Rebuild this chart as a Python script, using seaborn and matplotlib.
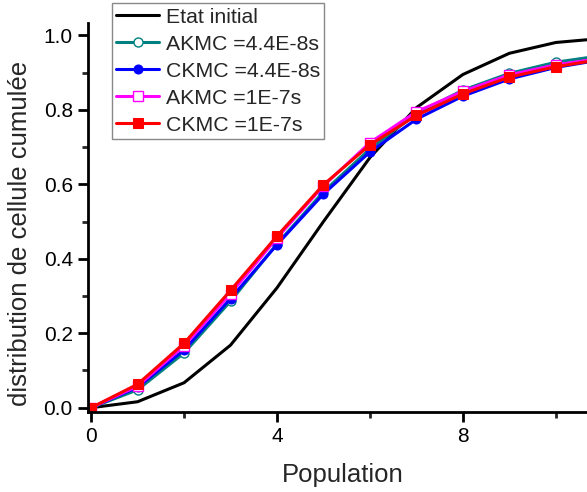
import matplotlib
matplotlib.use("Agg")
import matplotlib.pyplot as plt
import seaborn as sns
import numpy as np
from matplotlib.ticker import MultipleLocator

population = [0, 1, 2, 3, 4, 5, 6, 7, 8, 9, 10, 11]
etat_initial = [0.0, 0.016, 0.067, 0.168, 0.322, 0.500, 0.672, 0.806, 0.895, 0.952, 0.981, 0.992]
akmc_44e8 = [0.0, 0.048, 0.147, 0.286, 0.440, 0.580, 0.695, 0.790, 0.853, 0.898, 0.928, 0.946]
ckmc_44e8 = [0.0, 0.055, 0.155, 0.293, 0.438, 0.574, 0.687, 0.775, 0.837, 0.883, 0.914, 0.935]
akmc_1e7 = [0.0, 0.058, 0.166, 0.306, 0.456, 0.596, 0.712, 0.795, 0.850, 0.894, 0.921, 0.939]
ckmc_1e7 = [0.0, 0.063, 0.173, 0.315, 0.461, 0.599, 0.706, 0.785, 0.843, 0.888, 0.916, 0.936]

labels = ["Etat initial", "AKMC =4.4E-8s", "CKMC =4.4E-8s", "AKMC =1E-7s", "CKMC =1E-7s"]

sns.set_style("ticks")
plt.rcParams['font.family'] = ['Liberation Sans', 'DejaVu Sans']

fig = plt.figure(figsize=(5.87, 4.92), dpi=100)
ax = fig.add_axes([0.150, 0.163, 0.850, 0.790])

x = np.array(population)
sns.lineplot(x=x, y=etat_initial, ax=ax, color='black', lw=2.2, label=labels[0])
sns.lineplot(x=x, y=akmc_44e8, ax=ax, color='#008080', lw=2.2, marker='o', ms=6.5,
             markerfacecolor='white', markeredgecolor='#008080', markeredgewidth=1.0, label=labels[1])
sns.lineplot(x=x, y=ckmc_44e8, ax=ax, color='#0000FF', lw=2.2, marker='o', ms=6.5,
             markerfacecolor='#0000FF', markeredgecolor='#0000FF', label=labels[2])
sns.lineplot(x=x, y=akmc_1e7, ax=ax, color='#FF00FF', lw=2.2, marker='s', ms=6.5,
             markerfacecolor='white', markeredgecolor='#FF00FF', markeredgewidth=1.0, label=labels[3])
sns.lineplot(x=x, y=ckmc_1e7, ax=ax, color='#FF0000', lw=2.2, marker='s', ms=6.5,
             markerfacecolor='#FF0000', markeredgecolor='#FF0000', label=labels[4])

ax.set_xlim(-0.065, 10.67)
ax.set_ylim(-0.011, 1.033)
ax.xaxis.set_major_locator(MultipleLocator(4))
ax.xaxis.set_minor_locator(MultipleLocator(2))
ax.yaxis.set_major_locator(MultipleLocator(0.2))
ax.yaxis.set_minor_locator(MultipleLocator(0.1))
ax.yaxis.set_major_formatter(matplotlib.ticker.FormatStrFormatter('%.1f'))

for s in ['top', 'right']:
    ax.spines[s].set_visible(False)
for s in ['left', 'bottom']:
    ax.spines[s].set_linewidth(2.0)
    ax.spines[s].set_color('black')
ax.tick_params(axis='both', which='major', direction='out', length=7, width=2, labelsize=15, colors='black', pad=4)
ax.tick_params(axis='both', which='minor', direction='out', length=4, width=2)

ax.set_xlabel("Population", fontsize=18.5)
ax.set_ylabel("distribution de cellule cumulée", fontsize=18.5)
ax.xaxis.set_label_coords(0.51, -0.131)
ax.yaxis.set_label_coords(-0.112, 0.46)

leg = ax.legend(loc='upper left', bbox_to_anchor=(0.047, 1.051), fontsize=15.3, frameon=True,
                fancybox=False, framealpha=1, edgecolor='#888888', borderpad=0.2,
                labelspacing=0.38, handlelength=2.05, handletextpad=0.3, borderaxespad=0)
leg.get_frame().set_linewidth(1.0)

fig.savefig("out.png", dpi=100)
